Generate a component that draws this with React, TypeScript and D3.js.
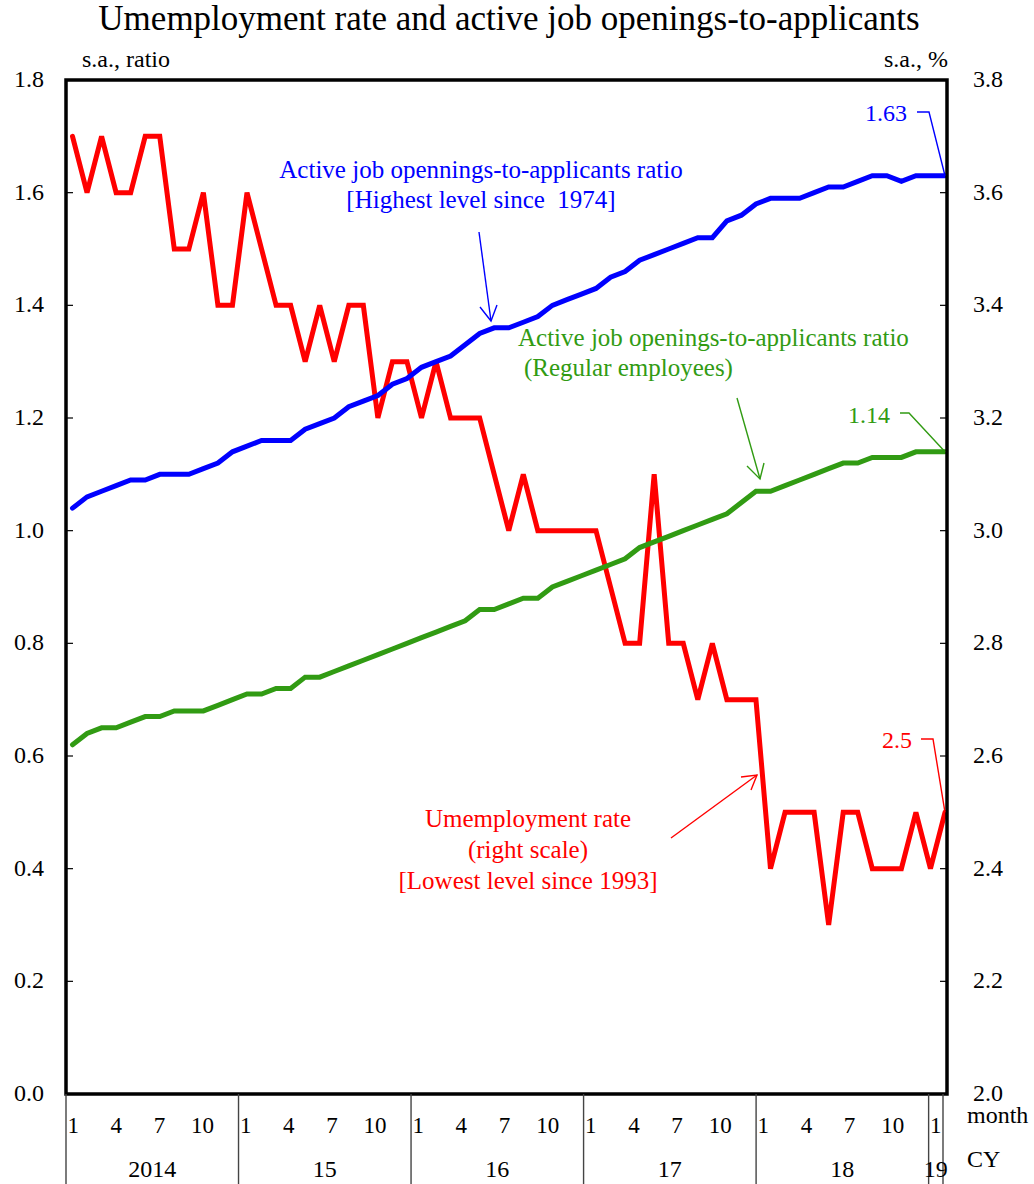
import React from "react";
import * as d3 from "d3";

const years = ["2014", "15", "16", "17", "18", "19"];
const monthsPerYear = [12, 12, 12, 12, 12, 1];
const monthTickLabels = ["1", "4", "7", "10"];
const leftTicks = [0, 0.2, 0.4, 0.6, 0.8, 1.0, 1.2, 1.4, 1.6, 1.8];
const rightTicks = [2.0, 2.2, 2.4, 2.6, 2.8, 3.0, 3.2, 3.4, 3.6, 3.8];

const jobRatio = [
  1.04, 1.06, 1.07, 1.08, 1.09, 1.09, 1.10, 1.10, 1.10, 1.11, 1.12, 1.14,
  1.15, 1.16, 1.16, 1.16, 1.18, 1.19, 1.20, 1.22, 1.23, 1.24, 1.26, 1.27,
  1.29, 1.30, 1.31, 1.33, 1.35, 1.36, 1.36, 1.37, 1.38, 1.40, 1.41, 1.42,
  1.43, 1.45, 1.46, 1.48, 1.49, 1.50, 1.51, 1.52, 1.52, 1.55, 1.56, 1.58,
  1.59, 1.59, 1.59, 1.60, 1.61, 1.61, 1.62, 1.63, 1.63, 1.62, 1.63, 1.63,
  1.63,
];
const regularRatio = [
  0.62, 0.64, 0.65, 0.65, 0.66, 0.67, 0.67, 0.68, 0.68, 0.68, 0.69, 0.70,
  0.71, 0.71, 0.72, 0.72, 0.74, 0.74, 0.75, 0.76, 0.77, 0.78, 0.79, 0.80,
  0.81, 0.82, 0.83, 0.84, 0.86, 0.86, 0.87, 0.88, 0.88, 0.90, 0.91, 0.92,
  0.93, 0.94, 0.95, 0.97, 0.98, 0.99, 1.00, 1.01, 1.02, 1.03, 1.05, 1.07,
  1.07, 1.08, 1.09, 1.10, 1.11, 1.12, 1.12, 1.13, 1.13, 1.13, 1.14, 1.14,
  1.14,
];
const unemployment = [
  3.7, 3.6, 3.7, 3.6, 3.6, 3.7, 3.7, 3.5, 3.5, 3.6, 3.4, 3.4,
  3.6, 3.5, 3.4, 3.4, 3.3, 3.4, 3.3, 3.4, 3.4, 3.2, 3.3, 3.3,
  3.2, 3.3, 3.2, 3.2, 3.2, 3.1, 3.0, 3.1, 3.0, 3.0, 3.0, 3.0,
  3.0, 2.9, 2.8, 2.8, 3.1, 2.8, 2.8, 2.7, 2.8, 2.7, 2.7, 2.7,
  2.4, 2.5, 2.5, 2.5, 2.3, 2.5, 2.5, 2.4, 2.4, 2.4, 2.5, 2.4,
  2.5,
];

const BLUE = "#0000ff";
const RED = "#ff0000";
const GREEN = "#319b13";
const FONT = "'Liberation Serif', 'Times New Roman', serif";

// categories: one per month
const cats: { year: number; month: number; idx: number }[] = [];
monthsPerYear.forEach((n, yi) => {
  for (let m = 1; m <= n; m++) cats.push({ year: yi, month: m, idx: cats.length });
});

const L = 66, R = 947, T = 80, B = 1094;
const AF = 25; // annotation font size

export default function App() {
  const xLine = d3.scaleLinear().domain([0, cats.length - 1]).range([72.5, 945]);
  const xBand = d3.scaleBand<number>().domain(cats.map((c) => c.idx)).range([66, 943]);
  const yL = d3.scaleLinear().domain([0, 1.8]).range([B, T]);
  const yR = d3.scaleLinear().domain([2.0, 3.8]).range([B, T]);

  const lineL = d3.line<number>().x((_, i) => xLine(i)).y((d) => yL(d));
  const lineR = d3.line<number>().x((_, i) => xLine(i)).y((d) => yR(d));

  const bw = xBand.bandwidth();
  const yearStarts = years.map((_, yi) => cats.find((c) => c.year === yi)!.idx);

  const last = cats.length - 1;

  return (
    <svg width={1034} height={1184} style={{ display: "block", position: "absolute", left: 0, top: 0 }} fontFamily={FONT}>
      <rect x={0} y={0} width={1034} height={1184} fill="#fff" />
      <text x={509} y={30} textAnchor="middle" fontSize={35}>
        Umemployment rate and active job openings-to-applicants
      </text>
      <text x={82} y={67} fontSize={24}>s.a., ratio</text>
      <text x={948} y={67} fontSize={24} textAnchor="end">s.a., %</text>

      {/* ticks */}
      {leftTicks.map((t) => (
        <g key={"l" + t}>
          <line x1={L} x2={L + 7} y1={yL(t)} y2={yL(t)} stroke="#000" strokeWidth={1.2} />
          <text x={44} y={yL(t) + 7} fontSize={24} textAnchor="end">{t.toFixed(1)}</text>
        </g>
      ))}
      {rightTicks.map((t) => (
        <g key={"r" + t}>
          <line x1={R - 7} x2={R} y1={yR(t)} y2={yR(t)} stroke="#000" strokeWidth={1.2} />
          <text x={973} y={yR(t) + 7} fontSize={24}>{t.toFixed(1)}</text>
        </g>
      ))}

      {/* series */}
      <path d={lineR(unemployment)!} fill="none" stroke={RED} strokeWidth={5} strokeLinecap="round" />
      <path d={lineL(regularRatio)!} fill="none" stroke={GREEN} strokeWidth={5} strokeLinecap="round" />
      <path d={lineL(jobRatio)!} fill="none" stroke={BLUE} strokeWidth={5} strokeLinecap="round" />

      {/* frame */}
      <rect x={L} y={T} width={R - L} height={B - T} fill="none" stroke="#000" strokeWidth={3.5} />

      {/* x axis */}
      {yearStarts.map((s, yi) => (
        <line key={"sep" + yi} x1={xBand(s)!} x2={xBand(s)!} y1={B} y2={1184} stroke="#444" strokeWidth={1.4} />
      ))}
      <line x1={943} x2={943} y1={B} y2={1184} stroke="#444" strokeWidth={1.4} />
      {cats
        .filter((c) => monthTickLabels.includes(String(c.month)))
        .map((c) => (
          <text key={"m" + c.idx} x={xBand(c.idx)! + bw / 2} y={1133} fontSize={23} textAnchor="middle">
            {String(c.month)}
          </text>
        ))}
      {years.map((y, yi) => {
        const s = yearStarts[yi];
        const e = s + monthsPerYear[yi] - 1;
        const cx = (xBand(s)! + xBand(e)! + bw) / 2;
        return (
          <text key={"y" + y} x={cx} y={1177} fontSize={24} textAnchor="middle">{y}</text>
        );
      })}
      <text x={967} y={1123} fontSize={24}>month</text>
      <text x={967} y={1167} fontSize={24}>CY</text>

      {/* blue annotation */}
      <text x={481} y={178} fontSize={AF} fill={BLUE} textAnchor="middle">Active job opennings-to-applicants ratio</text>
      <text x={481} y={208} fontSize={AF} fill={BLUE} textAnchor="middle" style={{ whiteSpace: "pre" }}>[Highest level since  1974]</text>
      <line x1={479} y1={232} x2={491} y2={321} stroke={BLUE} strokeWidth={1.4} />
      <polyline points="480,307 491,321 497,305" fill="none" stroke={BLUE} strokeWidth={1.4} />
      <text x={907} y={121} fontSize={24} fill={BLUE} textAnchor="end">1.63</text>
      <polyline points={`917,112 929,112 ${xLine(last)},${yL(jobRatio[last])}`} fill="none" stroke={BLUE} strokeWidth={1.4} />

      {/* green annotation */}
      <text x={518} y={346} fontSize={AF} fill={GREEN}>Active job openings-to-applicants ratio</text>
      <text x={524} y={376} fontSize={AF} fill={GREEN}>(Regular employees)</text>
      <line x1={737} y1={398} x2={760} y2={479} stroke={GREEN} strokeWidth={1.4} />
      <polyline points="747,466 760,479 764,463" fill="none" stroke={GREEN} strokeWidth={1.4} />
      <text x={890} y={423} fontSize={24} fill={GREEN} textAnchor="end">1.14</text>
      <polyline points={`900,413 909,413 ${xLine(last)},${yL(regularRatio[last])}`} fill="none" stroke={GREEN} strokeWidth={1.4} />

      {/* red annotation */}
      <text x={528} y={827} fontSize={AF} fill={RED} textAnchor="middle">Umemployment rate</text>
      <text x={528} y={858} fontSize={AF} fill={RED} textAnchor="middle">(right scale)</text>
      <text x={528} y={889} fontSize={AF} fill={RED} textAnchor="middle">[Lowest level since 1993]</text>
      <line x1={671} y1={838} x2={757} y2={775} stroke={RED} strokeWidth={1.4} />
      <polyline points="741,777 757,775 751,790" fill="none" stroke={RED} strokeWidth={1.4} />
      <text x={912} y={748} fontSize={24} fill={RED} textAnchor="end">2.5</text>
      <polyline points={`921,739 933,739 ${xLine(last)},${yR(unemployment[last])}`} fill="none" stroke={RED} strokeWidth={1.4} />
    </svg>
  );
}
